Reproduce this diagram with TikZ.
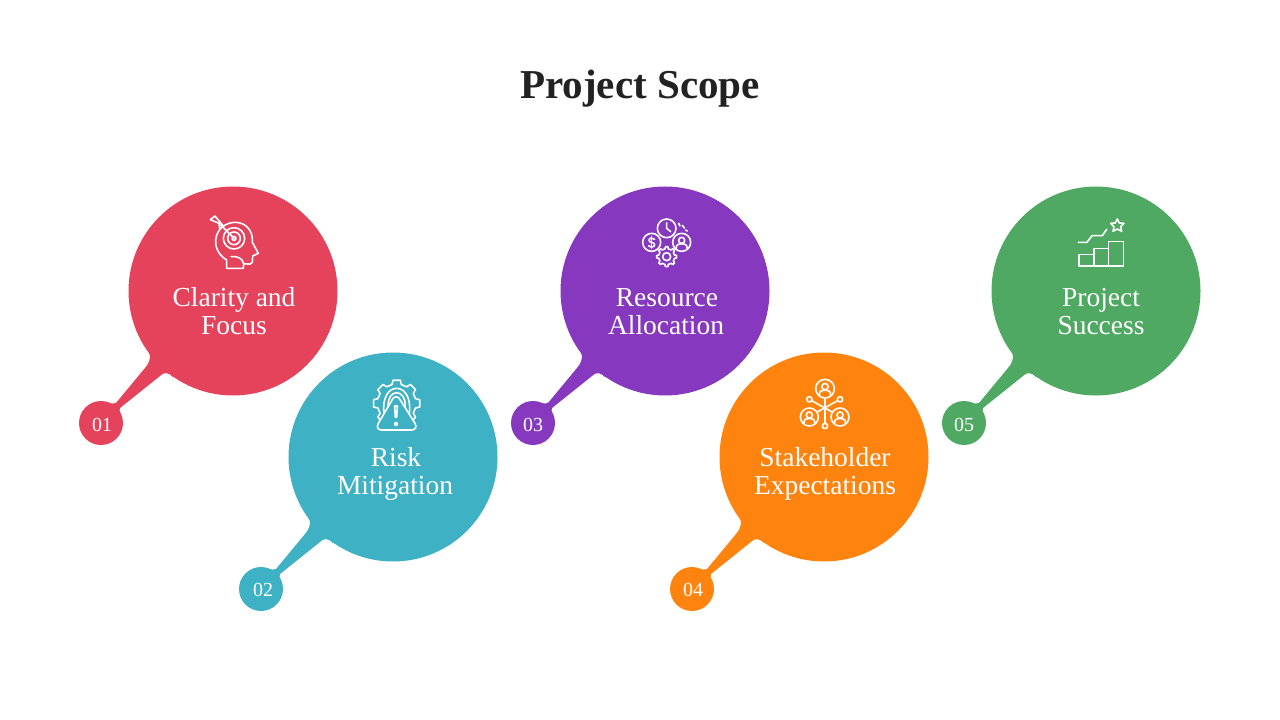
\documentclass[tikz,border=0pt]{standalone}
\usepackage{fontspec}
\setmainfont{Liberation Serif}
\usetikzlibrary{calc}
\definecolor{cred}{HTML}{E5435C}
\definecolor{cteal}{HTML}{3EB1C4}
\definecolor{cpurple}{HTML}{8639BF}
\definecolor{corange}{HTML}{FF840F}
\definecolor{cgreen}{HTML}{4FA963}
\definecolor{ctitle}{HTML}{222222}
\tikzset{
  bubble/.style={circle,draw=none,fill=#1,minimum size=156.75pt,inner sep=0pt},
  numdot/.style={circle,draw=none,fill=#1,minimum size=33pt,inner sep=0pt},
  numtext/.style={text=white,anchor=base,inner sep=0pt,font=\fontsize{15}{15}\selectfont},
  label/.style={text=white,anchor=base,inner sep=0pt,font=\fontsize{20.6}{21}\selectfont},
  titletext/.style={text=ctitle,anchor=base,inner sep=0pt,font=\fontsize{30.8}{32}\selectfont\bfseries},
  ico/.style={draw=white,line width=1.2pt,line cap=round,line join=round,fill=none},
}
\newcommand{\callout}[6]{% id, cx, cy, colour, nx, ny
  \node[bubble=#4] (b#1) at (#2,#3) {};
  \node[numdot=#4] (n#1) at (#5,#6) {};
  \fill[#4] (b#1.center) -- ($(b#1.center)+(-89,53)$)
    .. controls ($(b#1.center)+(-83,60)$) and ($(b#1.center)+(-80,68)$) .. ($(b#1.center)+(-88,77)$)
    -- ($(n#1.center)+(15,-20)$)
    .. controls ($(n#1.center)+(13,-18.5)$) and ($(n#1.center)+(10,-20)$) .. ($(n#1.center)+(8,-20)$)
    -- (n#1.center) -- ($(n#1.center)+(20,-8)$)
    .. controls ($(n#1.center)+(19,-11)$) and ($(n#1.center)+(17.5,-13.5)$) .. ($(n#1.center)+(19,-15)$)
    -- ($(b#1.center)+(-73,85)$)
    .. controls ($(b#1.center)+(-69,81)$) and ($(b#1.center)+(-65,81)$) .. ($(b#1.center)+(-60,86)$)
    -- cycle;
}
\newcommand{\personicon}[3]{% x y r
  \draw[ico] (#1,#2) circle (#3);
  \draw[ico] (#1,{#2-0.22*#3}) circle ({0.34*#3});
  \draw[ico] ({#1-0.62*#3},{#2+0.72*#3}) .. controls ({#1-0.62*#3},{#2+0.2*#3}) and ({#1-0.3*#3},{#2+0.15*#3}) .. (#1,{#2+0.15*#3})
     .. controls ({#1+0.3*#3},{#2+0.15*#3}) and ({#1+0.62*#3},{#2+0.2*#3}) .. ({#1+0.62*#3},{#2+0.72*#3});
}
\begin{document}
\begin{tikzpicture}[x=0.75pt,y=-0.75pt]
\useasboundingbox (0,0) rectangle (1280,720);
\node[titletext] (title) at (640,99) {Project Scope};
\callout{1}{233}{291}{cred}{101}{423}
\callout{2}{393}{457}{cteal}{261}{589}
\callout{3}{665}{291}{cpurple}{533}{423}
\callout{4}{824}{457}{corange}{692}{589}
\callout{5}{1096}{291}{cgreen}{964}{423}
\node[numtext] (t1) at (102,431) {01};
\node[numtext] (t2) at (263,596) {02};
\node[numtext] (t3) at (533,431) {03};
\node[numtext] (t4) at (693,596) {04};
\node[numtext] (t5) at (964,431) {05};
\node[label] (a1) at (234,306) {Clarity and};
\node[label] (c1) at (234,334) {Focus};
\node[label] (a2) at (396,466) {Risk};
\node[label] (c2) at (395,494) {Mitigation};
\node[label] (a3) at (667,306) {Resource};
\node[label] (c3) at (666,334) {Allocation};
\node[label] (a4) at (825,466) {Stakeholder};
\node[label] (c4) at (825,494) {Expectations};
\node[label] (a5) at (1101,306) {Project};
\node[label] (c5) at (1101,334) {Success};
% icon 1: head and target
\begin{scope}[shift={(195,205)},x=0.25pt,y=-0.25pt]
\draw[ico] (95,190) -- (95,165) .. controls (70,150) and (60,125) .. (62,105)
  .. controls (65,70) and (95,52) .. (120,52) .. controls (155,52) and (175,80) .. (172,112)
  -- (190,145) -- (173,153) -- (172,172) .. controls (170,178) and (165,178) .. (146,176) -- (145,190) -- cycle;
\draw[ico] (108,155) .. controls (125,153) and (142,158) .. (146,176);
\draw[ico] (117,100) circle (6);
\draw[ico] (117,100) circle (19);
\draw[ico] (117,100) circle (32);
\draw[ico] (117,100) -- (72,55);
\draw[ico] (72,55) -- (46,44) -- (60,33) -- (84,62) -- (74,72) -- (72,55);
\end{scope}
% icon 2: gear and warning
\begin{scope}[shift={(360,370)},x=0.25pt,y=-0.25pt]
\draw[ico] ($(110,100)+(135:70)$) -- ($(110,100)+(144:70)$) -- ($(110,100)+(149:58)$)
  \foreach \a in {180,225,270,315,360} { -- ($(110,100)+(\a-14:58)$) -- ($(110,100)+(\a-9:70)$) -- ($(110,100)+(\a+9:70)$) -- ($(110,100)+(\a+14:58)$) }
  -- ($(110,100)+(391:58)$) -- ($(110,100)+(396:70)$) -- ($(110,100)+(405:70)$);
\draw[ico] (108,80) .. controls (115,80) and (118,85) .. (122,92) -- (165,160) .. controls (172,172) and (165,180) .. (155,180)
  -- (65,180) .. controls (55,180) and (48,172) .. (55,160) -- (95,92) .. controls (99,85) and (102,80) .. (108,80);
\draw[ico] (72,130) .. controls (66,85) and (85,55) .. (110,55) .. controls (135,55) and (154,85) .. (148,130);
\draw[ico] (85,110) .. controls (82,85) and (95,68) .. (110,68) .. controls (125,68) and (138,85) .. (135,110);
\draw[ico] (104,108) -- (112,108) -- (110,142) -- (106,142) -- cycle;
\draw[ico] (108,162) circle (5);
\end{scope}
% icon 3: resources
\begin{scope}[shift={(630,210)},x=0.25pt,y=-0.25pt]
\draw[ico] (110,55) circle (28);
\draw[ico] (110,38) -- (110,55) -- (122,65);
\draw[ico] (65,97) circle (27);
\draw[ico] (74,88) .. controls (69,82) and (57,83) .. (57,91) .. controls (57,100) and (74,95) .. (74,104) .. controls (74,112) and (61,113) .. (56,107);
\draw[ico] (65,79) -- (65,115);
\personicon{155}{97}{27}
\draw[ico] (110,140) circle (12);
\draw[ico] ($(110,140)+(-12:24)$) \foreach \a in {0,45,...,315} { -- ($(110,140)+(\a-12:24)$) -- ($(110,140)+(\a-7:30)$) -- ($(110,140)+(\a+7:30)$) -- ($(110,140)+(\a+12:24)$) } -- cycle;
\draw[ico] (146,40) -- (150,48);
\draw[ico] (157,46) -- (163,54);
\draw[ico] (167,60) -- (172,63);
\end{scope}
% icon 4: network
\begin{scope}[shift={(790,372)},x=0.25pt,y=-0.25pt]
\personicon{105}{50}{28}
\personicon{58}{135}{27}
\personicon{150}{135}{27}
\draw[ico] (58,82) circle (8);
\draw[ico] (150,82) circle (8);
\draw[ico] (105,162) circle (8);
\draw[ico] (105,78) -- (105,154);
\draw[ico] (65,86) -- (128,121);
\draw[ico] (143,86) -- (80,121);
\end{scope}
% icon 5: growth
\begin{scope}[shift={(1065,210)},x=0.25pt,y=-0.25pt]
\draw[ico] (42,134) rectangle (87,168);
\draw[ico] (87,115) rectangle (131,168);
\draw[ico] (131,95) rectangle (175,168);
\draw[ico] (40,97) -- (66,97) -- (81,77) -- (112,77) -- (125,58);
\draw[ico] (157,27) -- (163,39) -- (177,40) -- (167,50) -- (170,64) -- (157,57) -- (144,64) -- (147,50) -- (137,40) -- (151,39) -- cycle;
\end{scope}
\end{tikzpicture}
\end{document}
